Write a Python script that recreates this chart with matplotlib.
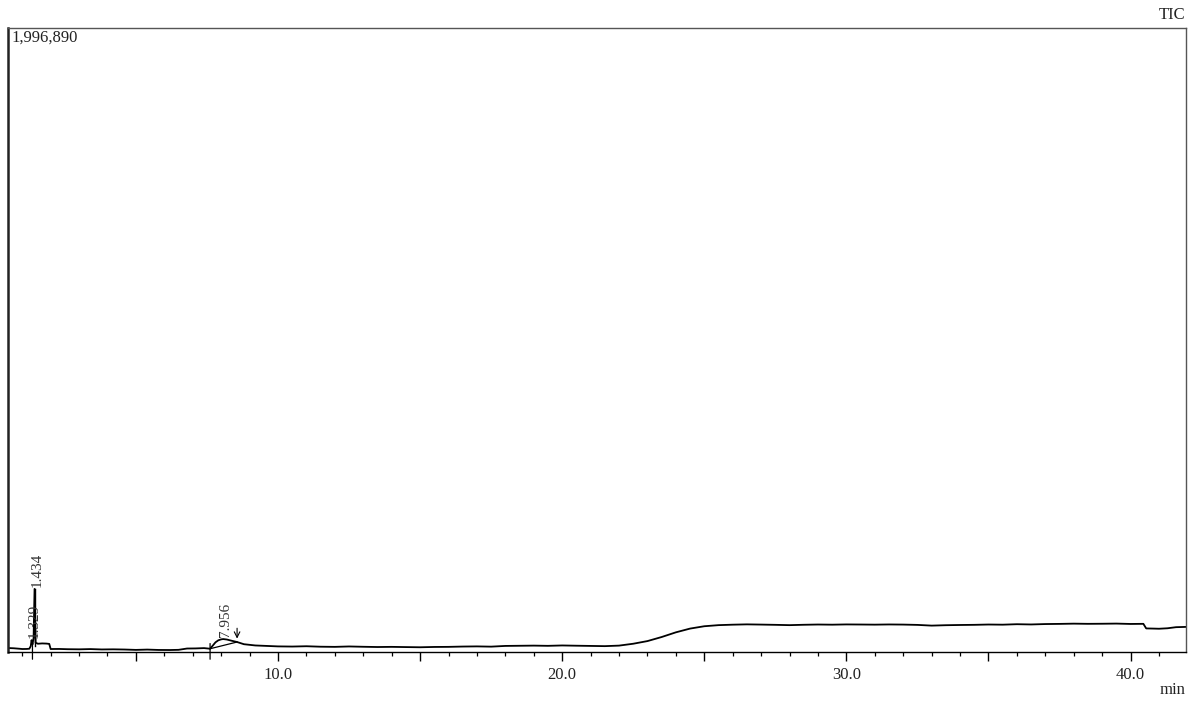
import numpy as np
import matplotlib.pyplot as plt
from matplotlib.ticker import MultipleLocator, FuncFormatter

plt.rcParams['font.family'] = ['Liberation Serif', 'DejaVu Serif']

# TIC trace (time in min, intensity in counts)
times = [0.5, 0.7, 0.9, 1.0, 1.15, 1.25, 1.30, 1.329, 1.36, 1.40, 1.434, 1.47, 1.55,
         1.7, 1.85, 1.95, 2.0, 2.3, 2.6, 3.0, 3.4, 3.8, 4.2, 4.6, 5.0, 5.4, 5.8,
         6.2, 6.5, 6.8, 7.1, 7.4, 7.61, 7.7, 7.8, 7.9, 8.0, 8.07, 8.2, 8.35, 8.56,
         8.8, 9.2, 9.6, 10.0,
         10.5, 11.0, 11.5, 12.0, 12.5, 13.0, 13.5, 14.0, 14.5, 15.0, 15.5, 16.0,
         16.5, 17.0, 17.5, 18.0, 18.5, 19.0, 19.5, 20.0, 20.5, 21.0, 21.5, 22.0,
         22.5, 23.0, 23.5, 24.0, 24.5, 25.0, 25.5, 26.0, 26.5, 27.0, 27.5, 28.0,
         28.5, 29.0, 29.5, 30.0, 30.5, 31.0, 31.5, 32.0, 32.5, 33.0, 33.5, 34.0,
         34.5, 35.0, 35.5, 36.0, 36.5, 37.0, 37.5, 38.0, 38.5, 39.0, 39.5, 40.0,
         40.45, 40.55, 40.8, 41.0, 41.3, 41.6, 42.0]
tic = [12800, 12000, 10500, 9600, 9800, 10500, 19000, 38000, 24000, 45000, 202000,
       30000, 26500, 27500, 27000, 26000, 9600, 9800, 9000, 8600, 9400, 8200, 8600,
       8000, 6800, 7800, 6600, 6400, 7000, 11200, 11500, 12500, 10500, 20000, 31000,
       37500, 40500, 41500, 40000, 36500, 32000, 25000, 21000, 19500, 18000,
       17500, 18500, 17000, 16500, 17800,
       16800, 16000, 16500, 15800, 15200, 16200, 16500, 17500, 18000, 17200, 19500,
       20000, 20500, 19800, 21000, 20200, 19500, 18800, 20500, 26500, 35000, 48000,
       63000, 75000, 82500, 86000, 87500, 88500, 87800, 87000, 86000, 87200, 88000,
       87500, 88300, 88000, 87600, 88200, 87800, 86800, 84500, 85800, 86500, 87000,
       88000, 87500, 89000, 88200, 89500, 90000, 90800, 90200, 90500, 91000, 89800,
       90200, 75500, 75000, 74500, 76000, 79500, 80500]

# integration markers
peak_labels = ['1.329', '1.434', '7.956']
peak_times = [1.329, 1.434, 8.07]
peak_tops = [38000, 202000, 41500]
start_times = [1.36, 7.61]
arrow_time = 8.56

ymax = 1996890

fig = plt.figure(figsize=(11.97, 7.02), dpi=100)
ax = fig.add_axes([0.0067, 0.0712, 0.9841, 0.8888])

ax.plot(times, tic, color='black', lw=1.3)

# baseline under the 7.956 peak
ax.plot([start_times[1], arrow_time], [10500, 32000], color='black', lw=0.9)

# peak top line for 1.434
ax.plot([peak_times[1], peak_times[1]], [tic[6], peak_tops[1]], color='black', lw=1.0)

# start markers crossing the axis
for st in start_times:
    ax.annotate('', xy=(st, -32000), xytext=(st, 36000),
                arrowprops=dict(arrowstyle='-', color='black', lw=0.9),
                annotation_clip=False)
ax.annotate('', xy=(arrow_time, 34000), xytext=(arrow_time, 85000),
            arrowprops=dict(arrowstyle='->', color='black', lw=0.8, mutation_scale=10))

for lab, t, h in zip(peak_labels, peak_times, peak_tops):
    ax.text(t + 0.1, h + 6000, lab, rotation=90, ha='center', va='bottom',
            fontsize=11, color='#333333')

ax.set_xlim(0.5, 41.95)
ax.set_ylim(0, ymax)

ax.xaxis.set_major_locator(MultipleLocator(5))
ax.xaxis.set_minor_locator(MultipleLocator(1))
ax.xaxis.set_major_formatter(FuncFormatter(lambda v, p: f'{v:.1f}' if v % 10 == 0 else ''))
ax.tick_params(axis='x', which='major', direction='out', length=6.5, width=1, pad=4,
               labelsize=12, colors='black', labelcolor='#222222')
ax.tick_params(axis='x', which='minor', direction='out', length=3, width=0.9)
ax.set_yticks([])

for s in ['top', 'right']:
    ax.spines[s].set_color('#555555')
    ax.spines[s].set_linewidth(1.0)
ax.spines['left'].set_linewidth(1.8)
ax.spines['left'].set_color('#222222')
ax.spines['bottom'].set_linewidth(1.0)

ax.text(0.003, 0.997, '1,996,890', transform=ax.transAxes, ha='left', va='top',
        fontsize=12, color='#222222')
fig.text(0.9905, 0.967, 'TIC', ha='right', va='bottom', fontsize=12, color='#222222')
fig.text(0.9905, 0.006, 'min', ha='right', va='bottom', fontsize=12, color='#222222')

fig.savefig('out.png', dpi=100)
